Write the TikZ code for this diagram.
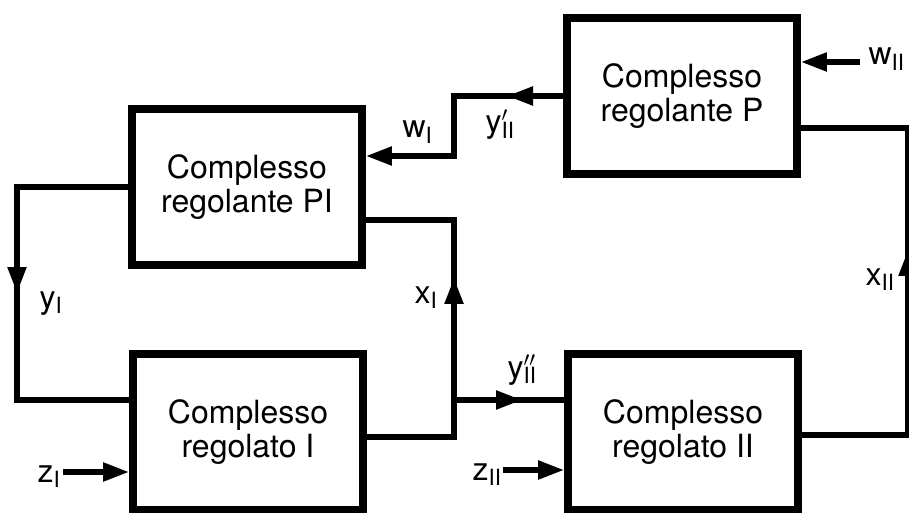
\documentclass[tikz,border=0pt]{standalone}
\usepackage{fontspec}
\setmainfont{TeX Gyre Heros}
\usetikzlibrary{arrows.meta}
\usetikzlibrary{positioning}
\newcommand{\sgl}[2]{#1\textsubscript{#2}}
\newcommand{\sglp}[3]{#1\rlap{\textsuperscript{#2}}\textsubscript{#3}}

\begin{document}
\begin{tikzpicture}[x=0.02cm,y=-0.02cm,->,>={Triangle[length=0.52cm,width=0.36cm]},line width=3pt,
  font=\fontsize{18.2}{19.4}\selectfont,
  block/.style={draw,-,line width=4.5pt,minimum width=4.6cm,minimum height=3.12cm,align=center,inner sep=0pt},
  lbl/.style={anchor=base west,inner sep=0pt}]
  \useasboundingbox (0,0) rectangle (909,513);

  \node[block] (PI) at (247,187) {Complesso\\regolante PI};
  \node[block] (P) at (682,96) {Complesso\\regolante P};
  \node[block] (RI) at (248,432) {Complesso\\regolato I};
  \node[block] (RII) at (683,432) {Complesso\\regolato II};

  % corners and arrow tips of the loops
  \coordinate (yItip) at (17,293);
  \coordinate (yIbot) at (17,400);
  \coordinate (xIbot) at (454,437);
  \coordinate (xItip) at (454,278);
  \coordinate (xItop) at (454,220);
  \coordinate (jn) at (454,400);
  \coordinate (yIIdtip) at (522,400);
  \coordinate (xIIbot) at (908,435);
  \coordinate (xIItip) at (908,250);
  \coordinate (xIItop) at (908,128);
  \coordinate (yIIptip) at (507,96);
  \coordinate (wIbot) at (454,156);
  \coordinate (wII) at (860,62);
  \coordinate (zI) at (63,472);
  \coordinate (zII) at (503,470);

  % whole lines first, the arrowed part on top
  \draw[-] (PI.west) -| (yIbot) -- (RI.west |- yIbot);
  \draw (PI.west) -| (yItip);
  \draw[-] (RI.east |- xIbot) -| (xItop) -- (PI.east |- xItop);
  \draw (RI.east |- xIbot) -| (xItip);
  \draw[-] (jn) -- (RII.west |- jn);
  \draw (jn) -- (yIIdtip);
  \draw[-] (RII.east |- xIIbot) -| (xIItop) -- (P.east |- xIItop);
  \draw (RII.east |- xIIbot) -| (xIItip);
  \draw[-] (P.west) -| (wIbot);
  \draw (P.west) -- (yIIptip);
  \draw (yIIptip) -| (wIbot) -- (PI.east |- wIbot);
  \draw (wII) -- (P.east |- wII);
  \draw (zI) -- (RI.west |- zI);
  \draw (zII) -- (RII.west |- zII);

  \node[lbl] (lwI) at (400,138) {\sgl{w}{I}};
  \node[lbl] (lyIIp) at (483,133) {\sglp{y}{$\prime$}{II}};
  \node[lbl] (lwII) at (866,65) {\sgl{w}{II}};
  \node[lbl] (lyI) at (37,308) {\sgl{y}{I}};
  \node[lbl] (lxI) at (412,303) {\sgl{x}{I}};
  \node[lbl] (lyIId) at (505,378) {\sglp{y}{$\prime\prime$}{II}};
  \node[lbl] (lxII) at (863,285) {\sgl{x}{II}};
  \node[lbl] (lzI) at (35,482) {\sgl{z}{I}};
  \node[lbl] (lzII) at (470,480) {\sgl{z}{II}};
\end{tikzpicture}
\end{document}
